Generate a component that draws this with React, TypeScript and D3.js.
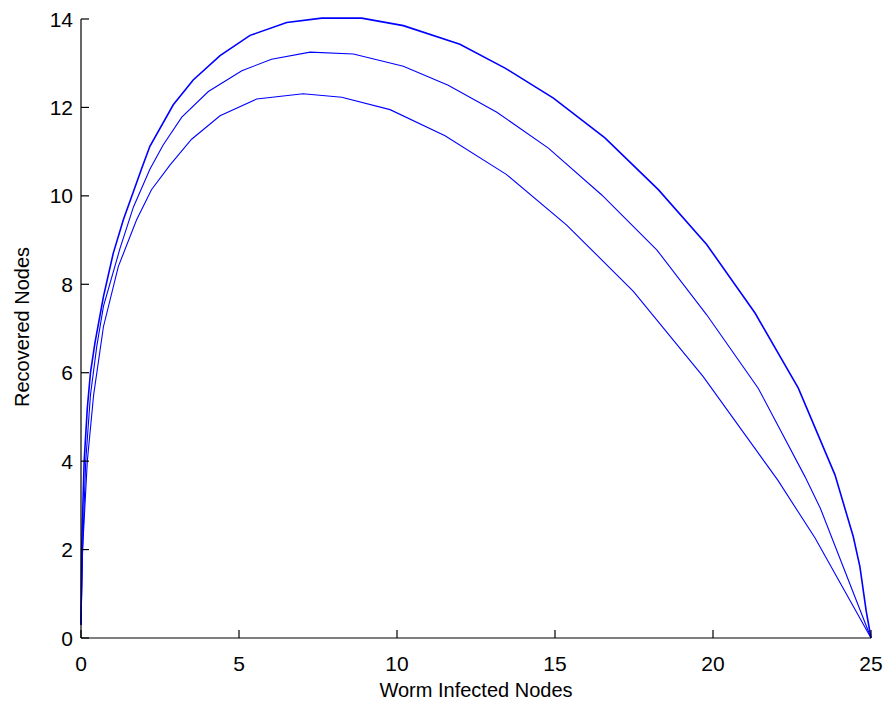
import React from "react";
import * as d3 from "d3";

const xTicks = [0, 5, 10, 15, 20, 25];
const yTicks = [0, 2, 4, 6, 8, 10, 12, 14];

const topX = [0, 0.02, 0.1, 0.2, 0.3, 0.44, 0.71, 1.02, 1.34, 1.66, 1.92, 2.18, 2.92, 3.55, 4.4, 5.35, 6.51, 7.62, 8.88, 10.2, 11.99, 13.42, 14.95, 16.58, 18.27, 19.8, 21.33, 22.7, 23.86, 24.44, 24.65, 24.85, 25];
const topY = [0.3, 2.0, 4.0, 5.2, 6.0, 6.67, 7.72, 8.7, 9.46, 10.1, 10.62, 11.12, 12.06, 12.62, 13.17, 13.63, 13.92, 14.02, 14.02, 13.85, 13.43, 12.89, 12.21, 11.31, 10.14, 8.9, 7.35, 5.65, 3.69, 2.29, 1.61, 0.6, 0];

const midX = [0, 0.05, 0.15, 0.3, 0.5, 0.71, 1.23, 1.66, 2.18, 2.6, 3.19, 4.03, 5.09, 6.03, 7.25, 8.62, 10.2, 11.62, 13.16, 14.79, 16.48, 18.22, 19.8, 21.43, 22.91, 23.4, 25];
const midY = [0.3, 2.0, 4.0, 5.5, 6.6, 7.5, 8.8, 9.75, 10.6, 11.15, 11.78, 12.36, 12.83, 13.09, 13.25, 13.21, 12.93, 12.5, 11.89, 11.08, 10.02, 8.78, 7.31, 5.65, 3.65, 2.93, 0];

const lowX = [0, 0.05, 0.2, 0.4, 0.71, 1.18, 1.76, 2.23, 2.82, 3.5, 4.4, 5.56, 7.03, 8.25, 9.78, 11.52, 13.47, 15.37, 17.48, 19.69, 22.05, 23.23, 25];
const lowY = [0.3, 2.0, 4.0, 5.5, 7.04, 8.4, 9.46, 10.14, 10.7, 11.28, 11.81, 12.19, 12.31, 12.23, 11.95, 11.36, 10.48, 9.34, 7.84, 5.91, 3.57, 2.26, 0];

const series = [
  { xs: topX, ys: topY, w: 1.6 },
  { xs: midX, ys: midY, w: 1.1 },
  { xs: lowX, ys: lowY, w: 1.1 },
];

export default function App() {
  const x = d3.scaleLinear().domain([0, 25]).range([81, 871]);
  const y = d3.scaleLinear().domain([0, 14]).range([638, 19]);
  const line = d3
    .line<[number, number]>()
    .x((d) => x(d[0]))
    .y((d) => y(d[1]));
  const font = "Liberation Sans, Arial, sans-serif";
  return (
    <svg
      width={888}
      height={704}
      style={{ position: "absolute", left: 0, top: 0, background: "#fff" }}
    >
      <rect x={0} y={0} width={888} height={704} fill="#fff" />
      {series.map((s, i) => (
        <path
          key={i}
          d={line(s.xs.map((v, j) => [v, s.ys[j]] as [number, number])) || ""}
          fill="none"
          stroke="#0000ff"
          strokeWidth={s.w}
        />
      ))}
      <line x1={x(0)} x2={x(0)} y1={y(14)} y2={y(0)} stroke="#000" strokeWidth={1.2} />
      <line x1={x(0)} x2={x(25)} y1={y(0)} y2={y(0)} stroke="#000" strokeWidth={1.2} />
      {yTicks.map((t) => (
        <g key={"y" + t}>
          <line x1={x(0)} x2={x(0) + 8} y1={y(t)} y2={y(t)} stroke="#000" strokeWidth={1.2} />
          <text
            x={73}
            y={y(t)}
            textAnchor="end"
            dominantBaseline="central"
            fontFamily={font}
            fontSize={21}
            fill="#000"
          >
            {t}
          </text>
        </g>
      ))}
      {xTicks.map((t) => (
        <g key={"x" + t}>
          <line x1={x(t)} x2={x(t)} y1={y(0)} y2={y(0) - 8} stroke="#000" strokeWidth={1.2} />
          <text
            x={x(t)}
            y={663}
            textAnchor="middle"
            dominantBaseline="central"
            fontFamily={font}
            fontSize={21}
            fill="#000"
          >
            {t}
          </text>
        </g>
      ))}
      <text
        x={476}
        y={690}
        textAnchor="middle"
        dominantBaseline="central"
        fontFamily={font}
        fontSize={20}
        fill="#000"
      >
        Worm Infected Nodes
      </text>
      <text
        transform={`translate(22,${327}) rotate(-90)`}
        textAnchor="middle"
        dominantBaseline="central"
        fontFamily={font}
        fontSize={20}
        fill="#000"
      >
        Recovered Nodes
      </text>
    </svg>
  );
}
